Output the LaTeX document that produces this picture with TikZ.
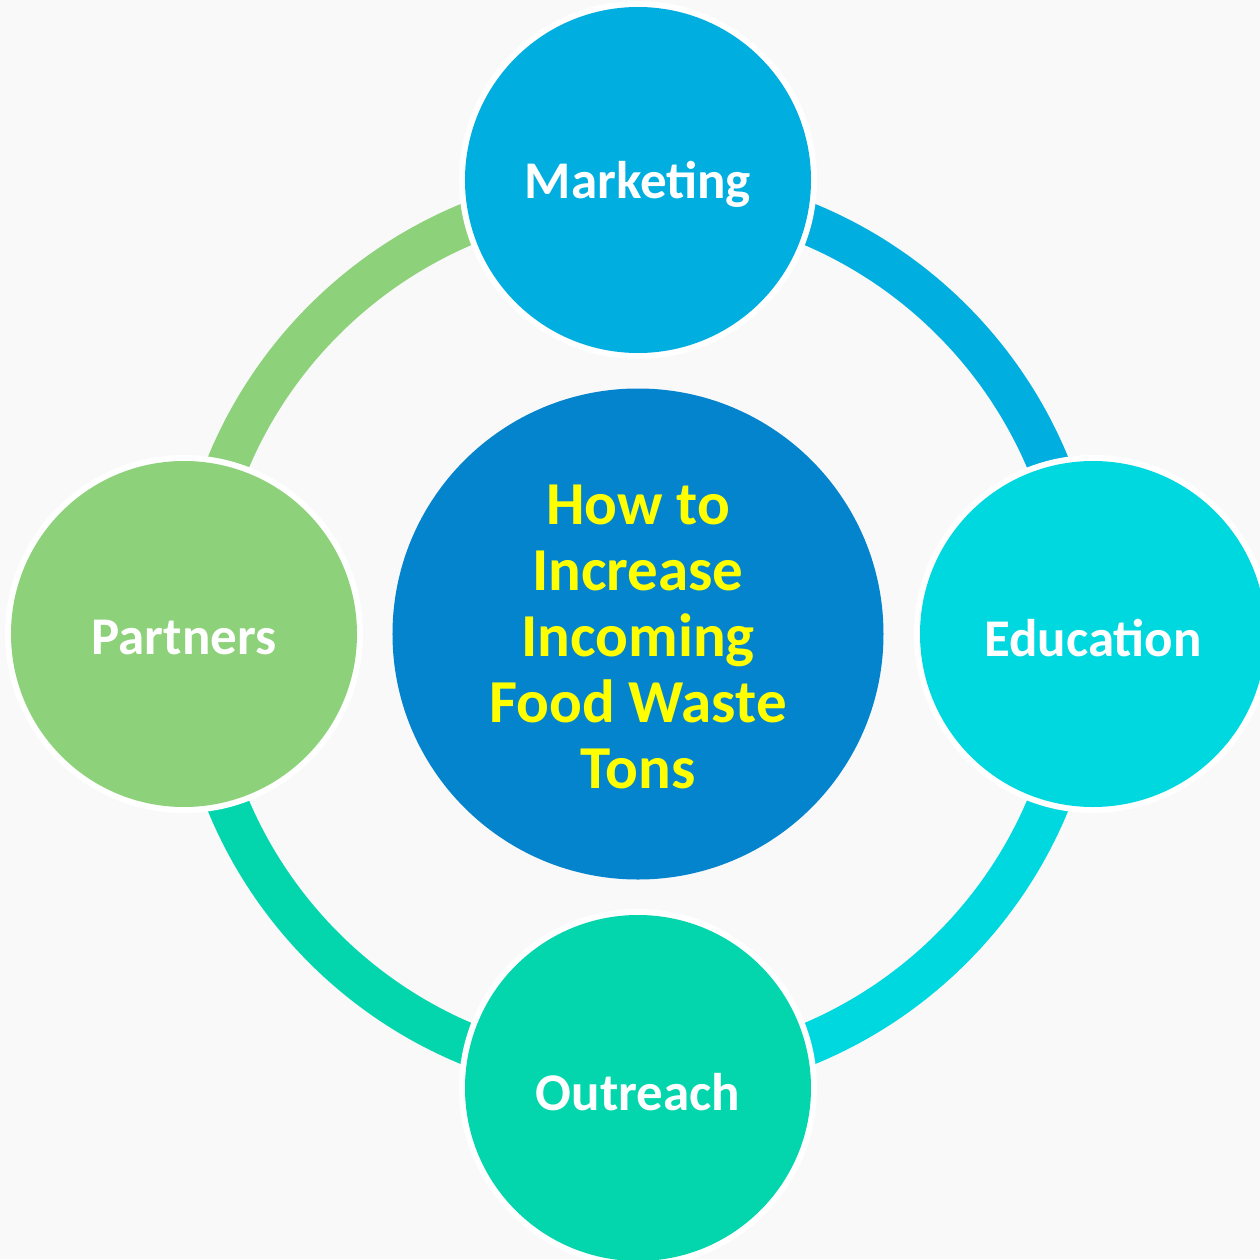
\documentclass[tikz,border=0pt]{standalone}
\usepackage{fontspec}
\setmainfont{Carlito}
\definecolor{bgc}{HTML}{F9F9F9}
\definecolor{cmark}{HTML}{00AEDF}
\definecolor{cedu}{HTML}{00D8E0}
\definecolor{cout}{HTML}{03D5AC}
\definecolor{cpart}{HTML}{8DD17A}
\definecolor{ccent}{HTML}{0584CE}
\definecolor{cyel}{HTML}{FFFF00}
\newcommand{\lowertxt}[1]{\raisebox{-4pt}[\height][\depth]{#1}}
\begin{document}
\begin{tikzpicture}[x=1pt,y=1pt,
  sat/.style={circle,minimum size=346pt,inner sep=0pt,text=white,font=\fontsize{53}{60}\selectfont\bfseries},
  gapring/.style={circle,fill=white,minimum size=358pt,inner sep=0pt},
  ringarc/.style={line width=42pt}]
\fill[bgc] (-638,-625) rectangle (622,634);
\useasboundingbox (-638,-625) rectangle (622,634);
% ring arcs
\draw[ringarc,cmark] (90:444) arc (90:0:444);
\draw[ringarc,cedu] (0:444) arc (0:-90:444);
\draw[ringarc,cout] (-90:444) arc (-90:-180:444);
\draw[ringarc,cpart] (180:444) arc (180:90:444);
% white gaps
\node[gapring] (gm) at (0,454) {};
\node[gapring] (ge) at (455,0) {};
\node[gapring] (go) at (0,-454) {};
\node[gapring] (gp) at (-454,0) {};
% satellites
\node[sat,fill=cmark] (mark) at (0,454) {\lowertxt{Marketing}};
\node[sat,fill=cedu] (edu) at (455,0) {\lowertxt{Education}};
\node[sat,fill=cout] (out) at (0,-454) {\lowertxt{Outreach}};
\node[sat,fill=cpart] (part) at (-454,0) {\lowertxt{Partners}};
% center
\node[circle,fill=ccent,minimum size=491pt,inner sep=0pt] (ctr) at (0,0) {};
\node[text=cyel,align=center,inner sep=0pt,
  font=\fontsize{61}{66}\selectfont\bfseries] (ctrtxt) at ([yshift=-3pt]ctr.center)
  {How to\\Increase\\Incoming\\Food Waste\\Tons};
\end{tikzpicture}
\end{document}
